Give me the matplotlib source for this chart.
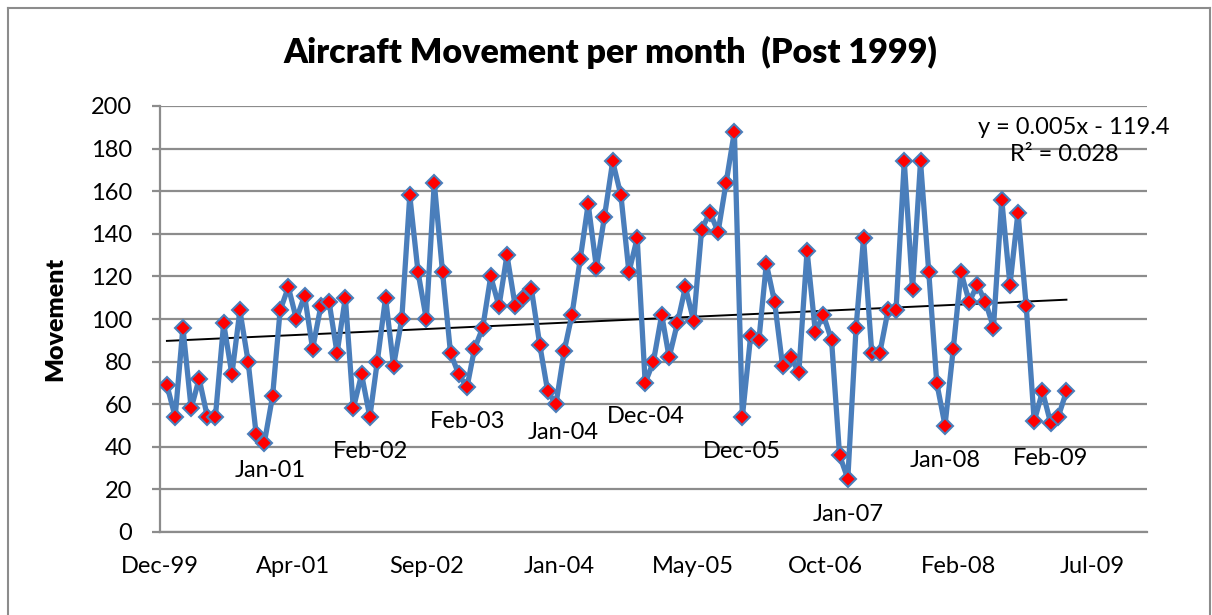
import matplotlib
matplotlib.use("Agg")
import matplotlib.pyplot as plt
import matplotlib.dates as mdates
from matplotlib.lines import Line2D
import numpy as np
import pandas as pd

# --- Data (monthly, Jan 2000 .. Apr 2009) ---
START_MONTH = "2000-01-01"
movement = [
    69, 54, 96, 58, 72, 54, 54, 98, 74, 104, 80, 46,
    42, 64, 104, 115, 100, 111, 86, 106, 108, 84, 110, 58,
    74, 54, 80, 110, 78, 100, 158, 122, 100, 164, 122, 84,
    74, 68, 86, 96, 120, 106, 130, 106, 110, 114, 88, 66,
    60, 85, 102, 128, 154, 124, 148, 174, 158, 122, 138, 70,
    80, 102, 82, 98, 115, 99, 142, 150, 141, 164, 188, 54,
    92, 90, 126, 108, 78, 82, 75, 132, 94, 102, 90, 36,
    25, 96, 138, 84, 84, 104, 104, 174, 114, 174, 122, 70,
    50, 86, 122, 108, 116, 108, 96, 156, 116, 150, 106, 52,
    66, 51, 54, 66,
]
labelled_idx = [12, 25, 37, 48, 59, 71, 84, 96, 109]
trend_text = ["y = 0.005x - 119.4", "R\u00b2 = 0.028"]

# label offsets (pixels) from the point
label_offsets = [(6, -28), (1, -35), (1, -34), (7, -28), (1, -34),
                 (0, -35), (0, -36), (0, -35), (0, -35)]

BLUE = "#4A7EBB"
GRID = "#8C8C8C"
FONT = "Lato"

dates = pd.date_range(START_MONTH, periods=len(movement), freq="MS")
xnum = mdates.date2num(dates)

fig = plt.figure(figsize=(12.12, 6.15), dpi=100)
W, H = 1212, 615
ax = fig.add_axes([160 / W, 1 - 532 / H, (1147 - 160) / W, (532 - 106) / H])

# trend line (least squares)
slope, intercept = np.polyfit(xnum, movement, 1)
ax.plot([xnum[0], xnum[-1]], [slope * xnum[0] + intercept, slope * xnum[-1] + intercept],
        color="black", lw=1.4, zorder=2)

ax.plot(dates, movement, color=BLUE, lw=3.8, marker="D", markersize=7.8,
        markerfacecolor="#FF0000", markeredgecolor=BLUE, markeredgewidth=1.5, zorder=3)

# data labels
for (dx, dy), i in zip(label_offsets, labelled_idx):
    ax.annotate(dates[i].strftime("%b-%y"), (dates[i], movement[i]),
                xytext=(dx * 0.72, dy * 0.72), textcoords="offset points",
                ha="center", va="center", fontsize=17, family=FONT, zorder=4)

# axes
x0 = pd.Timestamp("1999-12-06")
ticks = [x0 + pd.Timedelta(days=500 * k) for k in range(8)]
ax.set_xlim(mdates.date2num(x0), mdates.date2num(x0) + (1147 - 160) / (932 / 3500))
ax.set_xticks(ticks)
ax.xaxis.set_major_formatter(mdates.DateFormatter("%b-%y"))
ax.set_ylim(0, 200)
ax.set_yticks(range(0, 201, 20))
ax.grid(axis="y", color=GRID, lw=1.6)
ax.set_axisbelow(True)
for s in ["top", "right"]:
    ax.spines[s].set_visible(False)
for s in ["left", "bottom"]:
    ax.spines[s].set_color(GRID)
    ax.spines[s].set_linewidth(1.6)
ax.tick_params(axis="y", length=6, width=1.6, color=GRID, pad=14, labelsize=17)
ax.tick_params(axis="x", length=0, pad=17, labelsize=17)
for lab in ax.get_xticklabels() + ax.get_yticklabels():
    lab.set_family(FONT)

ax.set_ylabel("Movement", fontsize=18, fontweight="heavy", family=FONT, labelpad=18)
fig.text(610 / W, 1 - 52 / H, "Aircraft Movement per month  (Post 1999)",
         ha="center", va="center", fontsize=24.5, fontweight="heavy", family=FONT)

fig.text(1074 / W, 1 - 127 / H, trend_text[0], ha="center", va="center", fontsize=17, family=FONT)
fig.text(1064 / W, 1 - 155 / H, trend_text[1], ha="center", va="center", fontsize=17, family=FONT)

# chart border
for xs, ys in [([8, 8], [8, 615]), ([8, 1210], [8, 8]), ([1210, 1210], [8, 615])]:
    fig.add_artist(Line2D([x / W for x in xs], [1 - y / H for y in ys],
                          color=GRID, lw=1.5, transform=fig.transFigure))

fig.savefig("out.png", dpi=100)
